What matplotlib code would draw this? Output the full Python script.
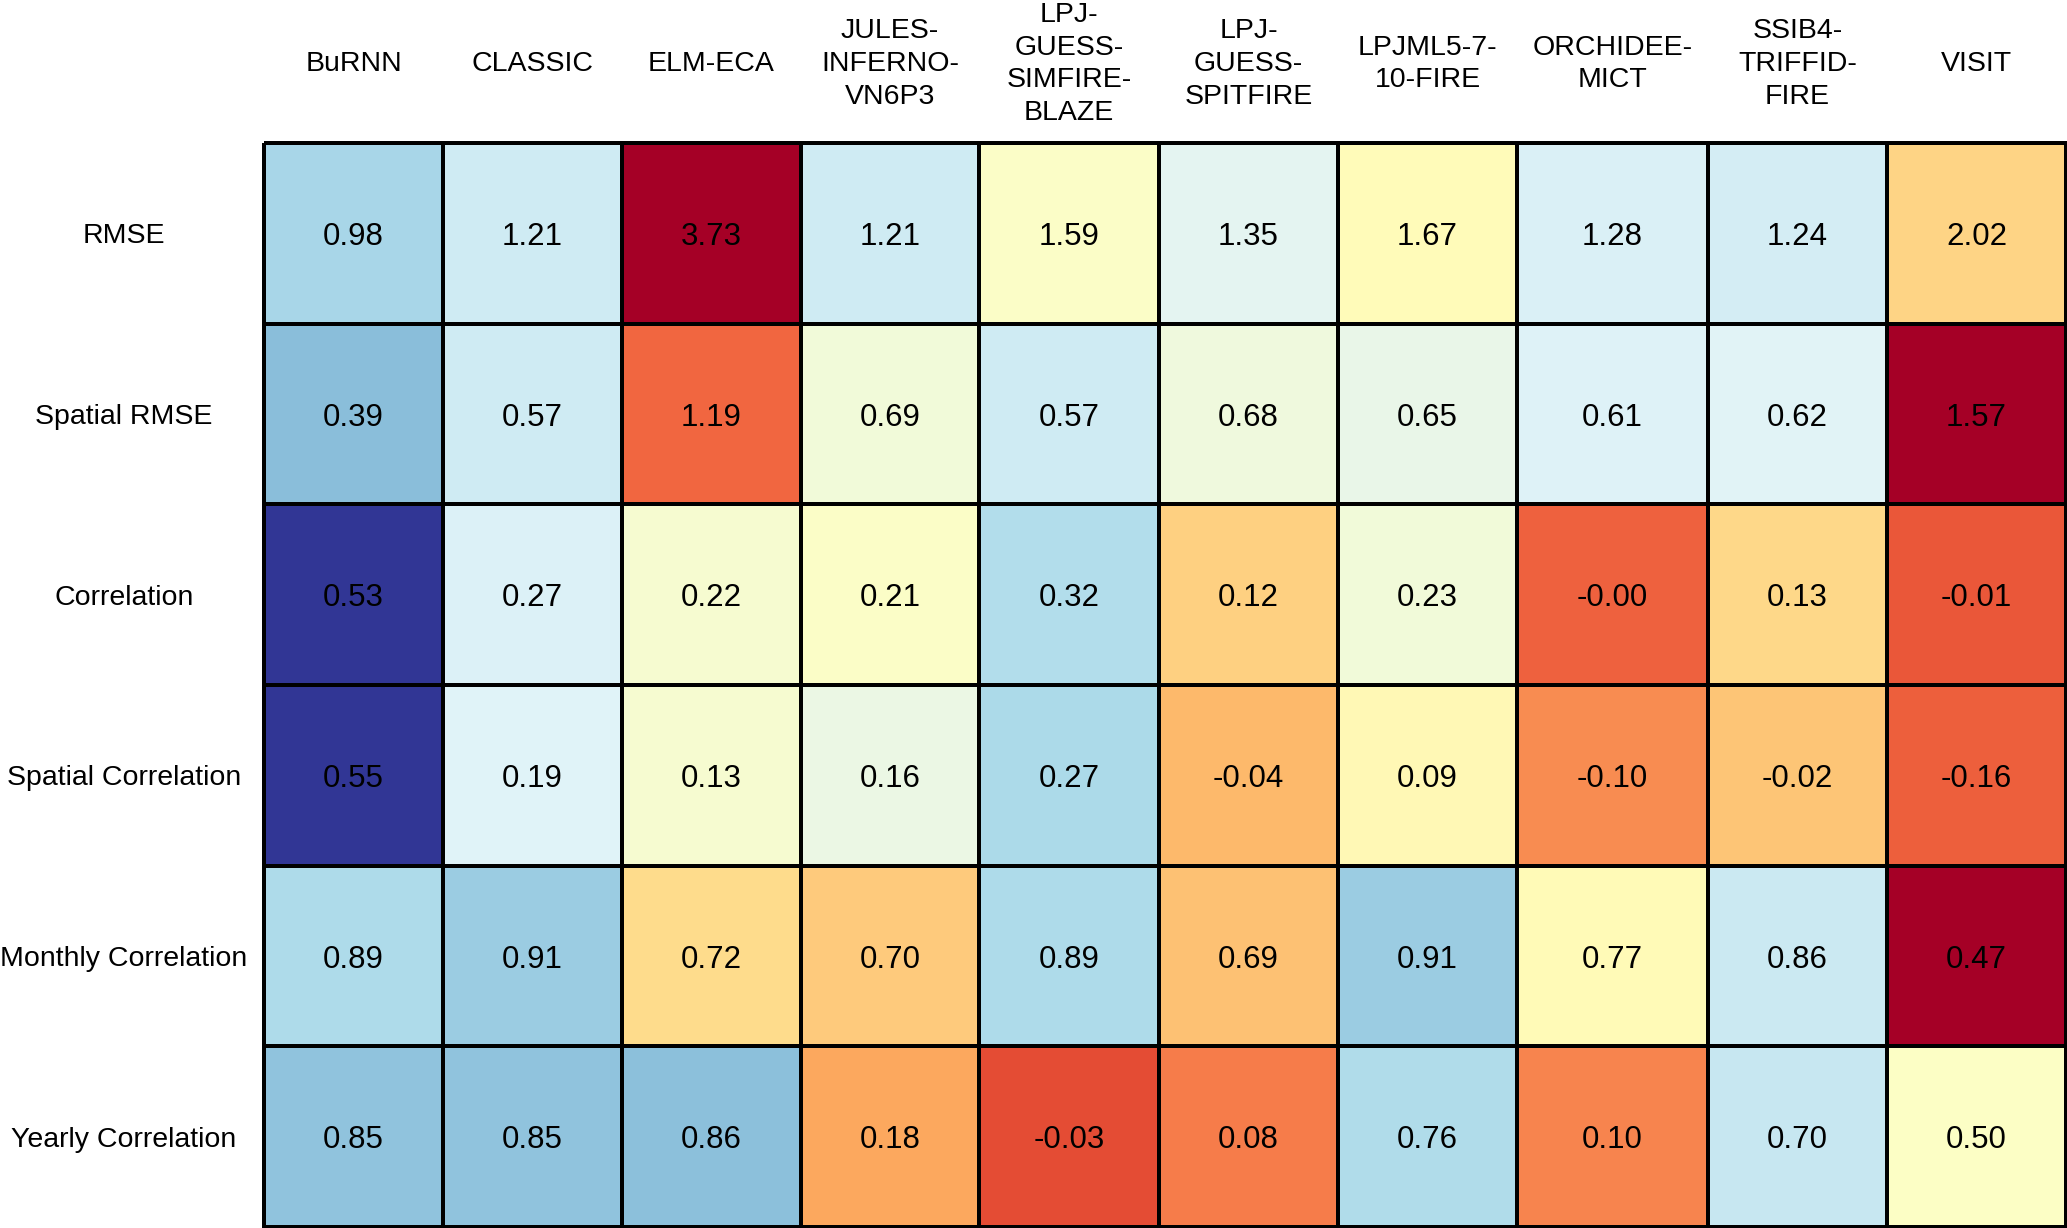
import numpy as np
import matplotlib
matplotlib.use("Agg")
import matplotlib.pyplot as plt
from matplotlib.colors import Normalize
from matplotlib.transforms import blended_transform_factory

plt.rcParams['font.family'] = ['Liberation Sans', 'DejaVu Sans']

# ---- data ----
models = ['BuRNN', 'CLASSIC', 'ELM-ECA', 'JULES-INFERNO-VN6P3',
          'LPJ-GUESS-SIMFIRE-BLAZE', 'LPJ-GUESS-SPITFIRE', 'LPJML5-7-10-FIRE',
          'ORCHIDEE-MICT', 'SSIB4-TRIFFID-FIRE', 'VISIT']
model_labels = ['BuRNN', 'CLASSIC', 'ELM-ECA', 'JULES-\nINFERNO-\nVN6P3',
                'LPJ-\nGUESS-\nSIMFIRE-\nBLAZE', 'LPJ-\nGUESS-\nSPITFIRE',
                'LPJML5-7-\n10-FIRE', 'ORCHIDEE-\nMICT', 'SSIB4-\nTRIFFID-\nFIRE',
                'VISIT']
metrics = ['RMSE', 'Spatial RMSE', 'Correlation', 'Spatial Correlation',
           'Monthly Correlation', 'Yearly Correlation']
lower_is_better = [True, True, False, False, False, False]

rmse = [0.98, 1.21, 3.73, 1.21, 1.59, 1.35, 1.67, 1.28, 1.24, 2.02]
spatial_rmse = [0.39, 0.57, 1.19, 0.69, 0.57, 0.68, 0.65, 0.61, 0.62, 1.57]
correlation = [0.53, 0.27, 0.22, 0.21, 0.32, 0.12, 0.23, -0.00, 0.13, -0.01]
spatial_corr = [0.55, 0.19, 0.13, 0.16, 0.27, -0.04, 0.09, -0.10, -0.02, -0.16]
monthly_corr = [0.89, 0.91, 0.72, 0.70, 0.89, 0.69, 0.91, 0.77, 0.86, 0.47]
yearly_corr = [0.85, 0.85, 0.86, 0.18, -0.03, 0.08, 0.76, 0.10, 0.70, 0.50]

rows = [rmse, spatial_rmse, correlation, spatial_corr, monthly_corr, yearly_corr]

# ---- layout / style ----
col_widths = [179, 179, 179, 178, 180, 179, 179, 191, 179, 179]
W, H = 2067, 1228
grid_left, grid_right = 264, 2066
grid_top, grid_bottom = 143, 1227
col_label_y = 64
row_label_x = 124

fig = plt.figure(figsize=(W / 100, H / 100), dpi=100)
ax = fig.add_axes([grid_left / W, 1 - grid_bottom / H,
                   (grid_right - grid_left) / W, (grid_bottom - grid_top) / H])

x_edges = np.concatenate([[0], np.cumsum(col_widths)])
x_centers = (x_edges[:-1] + x_edges[1:]) / 2

for i, (vals, low_good) in enumerate(zip(rows, lower_is_better)):
    v = np.array(vals, dtype=float)
    m, s = v.mean(), v.std(ddof=1)
    norm = Normalize(vmin=m - 2 * s, vmax=m + 2 * s, clip=True)
    cmap = plt.get_cmap('RdYlBu_r' if low_good else 'RdYlBu')
    mesh = ax.pcolormesh(x_edges, [i, i + 1], v[None, :], cmap=cmap, norm=norm,
                         edgecolor='black', linewidth=1.6)
    mesh.set_clip_on(False)
    for xc, val in zip(x_centers, vals):
        ax.text(xc, i + 0.5, f"{val:.2f}", ha='center', va='center_baseline',
                fontsize=22.5, color='black')

ax.set_xlim(x_edges[0], x_edges[-1])
ax.set_ylim(len(rows), 0)
ax.set_axis_off()

# column labels
tr_col = blended_transform_factory(ax.transData, fig.transFigure)
for xc, lab in zip(x_centers, model_labels):
    ax.text(xc, 1 - col_label_y / H, lab, transform=tr_col, ha='center',
            va='center', multialignment='center', fontsize=20.5,
            linespacing=1.33, clip_on=False)

# row labels
tr_row = blended_transform_factory(fig.transFigure, ax.transData)
for i, lab in enumerate(metrics):
    ax.text(row_label_x / W, i + 0.5, lab, transform=tr_row, ha='center',
            va='center_baseline', fontsize=20.5, clip_on=False)

fig.savefig('out.png', dpi=100, facecolor='white')
